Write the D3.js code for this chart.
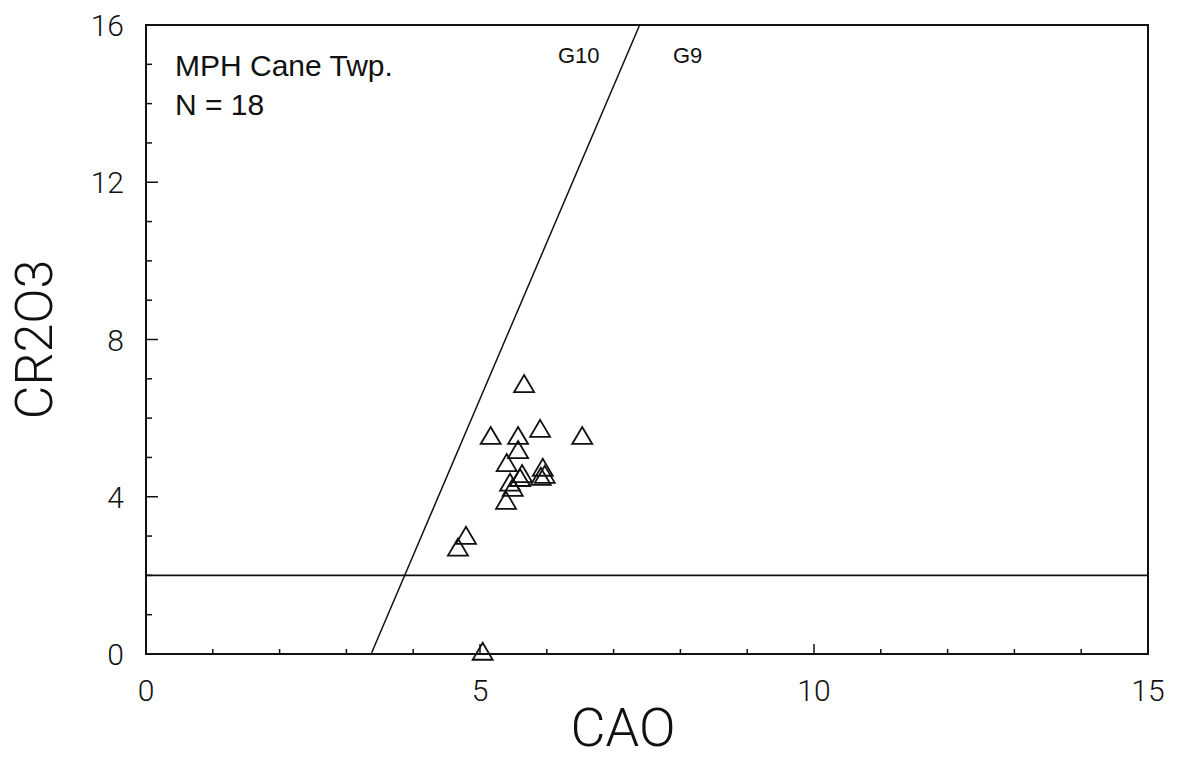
<!DOCTYPE html>
<html>
<head>
<meta charset="utf-8">
<script src="https://cdn.jsdelivr.net/npm/d3@7/dist/d3.min.js"></script>
<style>
  html, body { margin: 0; padding: 0; background: #fff; }
  svg { display: block; }
  text { font-family: "Liberation Sans", Arial, Helvetica, sans-serif; fill: #111; }
  text.light { font-family: Roboto, "Liberation Sans", Arial, sans-serif; font-weight: 300; }
</style>
</head>
<body>
<svg id="chart" width="1182" height="772"></svg>
<script>
// Garnet analyses: CaO vs Cr2O3 (wt %)
const cao   = [5.66, 5.16, 5.57, 5.90, 6.53, 5.57, 5.40, 5.63, 5.60, 5.94, 5.97, 5.91, 5.45, 5.49, 5.39, 4.79, 4.67, 5.04];
const cr2o3 = [6.88, 5.56, 5.56, 5.74, 5.56, 5.20, 4.87, 4.59, 4.49, 4.75, 4.57, 4.52, 4.37, 4.24, 3.91, 3.02, 2.72, 0.07];

// G9 / G10 dividing line end points (CaO, Cr2O3)
const g10Line = [[3.37, 0], [7.39, 16]];
// Horizontal Cr2O3 = 2 wt % line
const crCutoff = 2;

const xTicks = [0, 5, 10, 15];
const yTicks = [0, 4, 8, 12, 16];
const xMinor = d3.range(1, 15);
const yMinor = d3.range(1, 16);

const svg = d3.select("#chart");
const x = d3.scaleLinear().domain([0, 15]).range([146, 1148]);
const y = d3.scaleLinear().domain([0, 16]).range([654, 25]);

const ink = "#111";

// Frame
svg.append("rect")
  .attr("x", x(0)).attr("y", y(16))
  .attr("width", x(15) - x(0)).attr("height", y(0) - y(16))
  .attr("fill", "none").attr("stroke", ink).attr("stroke-width", 2);

// Ticks pointing inward on bottom and left axes
const g = svg.append("g").attr("stroke", ink).attr("stroke-width", 1.5);
xMinor.forEach(v => {
  const len = (v % 5 === 0) ? 10 : 5;
  g.append("line").attr("x1", x(v)).attr("x2", x(v)).attr("y1", y(0)).attr("y2", y(0) - len);
});
yMinor.forEach(v => {
  const len = (v % 4 === 0) ? 12 : 6;
  g.append("line").attr("x1", x(0)).attr("x2", x(0) + len).attr("y1", y(v)).attr("y2", y(v));
});

// Tick labels
svg.append("g").selectAll("text").data(xTicks).join("text")
  .attr("class", "light")
  .attr("x", d => x(d)).attr("y", y(0) + 47)
  .attr("text-anchor", "middle").attr("font-size", 30)
  .text(d => d);
svg.append("g").selectAll("text").data(yTicks).join("text")
  .attr("class", "light")
  .attr("x", x(0) - 22).attr("y", d => y(d) + 11)
  .attr("text-anchor", "end").attr("font-size", 30)
  .text(d => d);

// Axis titles
svg.append("text")
  .attr("class", "light")
  .attr("x", 623).attr("y", 746)
  .attr("text-anchor", "middle").attr("font-size", 54)
  .text("CAO");
svg.append("text")
  .attr("class", "light")
  .attr("transform", `translate(52, ${(y(0) + y(16)) / 2}) rotate(-90)`)
  .attr("text-anchor", "middle").attr("font-size", 52)
  .text("CR2O3");

// Reference lines
svg.append("line")
  .attr("x1", x(0)).attr("x2", x(15))
  .attr("y1", y(crCutoff)).attr("y2", y(crCutoff))
  .attr("stroke", ink).attr("stroke-width", 1.8);
svg.append("line")
  .attr("x1", x(g10Line[0][0])).attr("y1", y(g10Line[0][1]))
  .attr("x2", x(g10Line[1][0])).attr("y2", y(g10Line[1][1]))
  .attr("stroke", ink).attr("stroke-width", 1.5);

// Field labels
svg.append("text").attr("x", 558).attr("y", 63).attr("font-size", 22).text("G10");
svg.append("text").attr("x", 673).attr("y", 63).attr("font-size", 22).text("G9");

// Annotation
svg.append("text").attr("x", 175).attr("y", 76).attr("font-size", 30).text("MPH Cane Twp.");
svg.append("text").attr("x", 175).attr("y", 115).attr("font-size", 30).text("N = 18");

// Open triangle markers
const hw = 10, hh = 8.5;
const tri = `M0,${-hh}L${hw},${hh}L${-hw},${hh}Z`;
svg.append("g").selectAll("path").data(cao.map((c, i) => [c, cr2o3[i]])).join("path")
  .attr("transform", d => `translate(${x(d[0])},${y(d[1])})`)
  .attr("d", tri)
  .attr("fill", "none").attr("stroke", ink).attr("stroke-width", 1.8)
  .attr("stroke-linejoin", "miter");
</script>
</body>
</html>
